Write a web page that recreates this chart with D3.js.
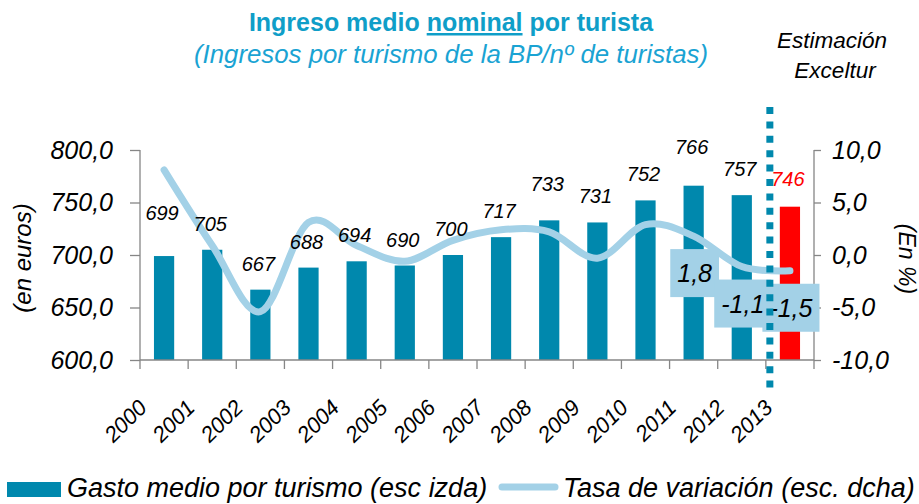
<!DOCTYPE html>
<html>
<head>
<meta charset="utf-8">
<script src="https://cdnjs.cloudflare.com/ajax/libs/d3/7.8.5/d3.min.js"></script>
<style>
  html, body { margin: 0; padding: 0; background: #fff; }
  svg { display: block; font-family: "Liberation Sans", Arial, Helvetica, sans-serif; }
  .axis path, .axis line { stroke: #868686; stroke-width: 1.3; }
</style>
</head>
<body>
<div id="chart"></div>
<script>
(() => {
  // Values
  const years = ['2000', '2001', '2002', '2003', '2004', '2005', '2006', '2007', '2008', '2009', '2010', '2011', '2012', '2013']
  const gasto = [699, 705, 667, 688, 694, 690, 700, 717, 733, 731, 752, 766, 757, 746]
  const tasa = [8.1, 0.9, -5.4, 3.1, 0.9, -0.6, 1.4, 2.4, 2.2, -0.3, 2.9, 1.8, -1.1, -1.5]
  const leftTicks = [600, 650, 700, 750, 800]
  const rightTicks = [-10, -5, 0, 5, 10]
  const tasaLabelYears = ['2011', '2012', '2013']
  const estimateYear = '2013'

  const WIDTH = 919
  const HEIGHT = 504
  const PLOT = { left: 140, right: 814, top: 150, bottom: 360 }

  const BAR_COLOR = '#0088ad'
  const LINE_COLOR = '#a3d1e7'
  const TITLE_COLOR = '#0f9ec8'
  const SUB_COLOR = '#1aa3d3'

  // label lifts above bar tops (Excel moved a few by hand)
  const LIFT = 19
  const liftFix = { '2000': 36, '2008': 29, '2011': 32, '2013': 21 }

  // spanish style numbers, plain hyphen for negatives
  const locale = d3.formatLocale({ decimal: ',', thousands: '.', grouping: [3], currency: ['', '€'], minus: '-' })
  const comma = locale.format('.1f')

  const svg = d3.select('#chart').append('svg')
    .attr('width', WIDTH)
    .attr('height', HEIGHT)

  const x = d3.scaleBand()
    .domain(years)
    .range([PLOT.left, PLOT.right])
    .paddingInner(0.58)
    .paddingOuter(0.29)

  const xc = yr => x(yr) + x.bandwidth() / 2
  const step = x.step()
  const bandStart = yr => PLOT.left + years.indexOf(yr) * step

  const yL = d3.scaleLinear().domain([600, 800]).range([PLOT.bottom, PLOT.top])
  const yR = d3.scaleLinear().domain([-10, 10]).range([PLOT.bottom, PLOT.top])

  // titles
  const title = svg.append('text')
    .attr('x', 451).attr('y', 31)
    .attr('text-anchor', 'middle')
    .attr('fill', TITLE_COLOR)
    .style('font-weight', 'bold')
    .style('font-size', '25px')
  title.append('tspan').text('Ingreso medio ')
  title.append('tspan').text('nominal').style('text-decoration', 'underline')
  title.append('tspan').text(' por turista')

  svg.append('text')
    .attr('x', 451).attr('y', 63)
    .attr('text-anchor', 'middle')
    .attr('fill', SUB_COLOR)
    .style('font-style', 'italic')
    .style('font-size', '25.8px')
    .text('(Ingresos por turismo de la BP/nº de turistas)')

  svg.selectAll('.est')
    .data(['Estimación', 'Exceltur'])
    .join('text')
    .attr('x', (d, i) => i ? 835 : 832)
    .attr('y', (d, i) => 48 + i * 30)
    .attr('text-anchor', 'middle')
    .style('font-style', 'italic')
    .style('font-size', '22.5px')
    .text(d => d)

  // bars
  svg.append('g')
    .selectAll('rect')
    .data(years)
    .join('rect')
    .attr('x', d => x(d))
    .attr('width', x.bandwidth())
    .attr('y', (d, i) => yL(gasto[i]))
    .attr('height', (d, i) => PLOT.bottom - yL(gasto[i]))
    .attr('fill', d => d === estimateYear ? '#ff0000' : BAR_COLOR)

  // axes
  const xAxisG = svg.append('g')
    .attr('class', 'axis')
    .attr('transform', `translate(0, ${PLOT.bottom})`)
  xAxisG.append('line')
    .attr('x1', PLOT.left).attr('x2', PLOT.right)
  xAxisG.selectAll('.tk')
    .data(d3.range(years.length + 1))
    .join('line')
    .attr('x1', i => PLOT.left + i * step)
    .attr('x2', i => PLOT.left + i * step)
    .attr('y1', 0).attr('y2', 9)

  svg.append('g')
    .attr('transform', `translate(0, ${PLOT.bottom})`)
    .selectAll('text')
    .data(years)
    .join('text')
    .attr('transform', d => `translate(${xc(d) - 16}, 49) rotate(-45)`)
    .attr('text-anchor', 'end')
    .style('font-style', 'italic')
    .style('font-size', '22px')
    .text(d => d)

  const tickText = g => g.selectAll('text')
    .attr('fill', '#000')
    .style('font-style', 'italic')
    .style('font-size', '25px')
    .style('font-family', '"Liberation Sans", Arial, sans-serif')

  svg.append('g')
    .attr('class', 'axis')
    .attr('transform', `translate(${PLOT.left}, 0)`)
    .call(d3.axisLeft(yL).tickValues(leftTicks).tickSize(10).tickPadding(17).tickFormat(comma))
    .call(g => g.select('.domain').attr('d', `M0,${PLOT.top}V${PLOT.bottom}`))
    .call(tickText)

  svg.append('g')
    .attr('class', 'axis')
    .attr('transform', `translate(${PLOT.right}, 0)`)
    .call(d3.axisRight(yR).tickValues(rightTicks).tickSize(7).tickPadding(11).tickFormat(comma))
    .call(g => g.select('.domain').attr('d', `M0,${PLOT.top}V${PLOT.bottom}`))
    .call(tickText)

  svg.append('text')
    .attr('transform', 'translate(31, 258) rotate(-90)')
    .attr('text-anchor', 'middle')
    .style('font-style', 'italic')
    .style('font-size', '24px')
    .text('(en euros)')

  svg.append('text')
    .attr('transform', 'translate(899, 259) rotate(90)')
    .attr('text-anchor', 'middle')
    .style('font-style', 'italic')
    .style('font-size', '23px')
    .text('(En %)')

  // variation line
  const line = d3.line()
    .x((d, i) => xc(years[i]))
    .y(d => yR(d))
    .curve(d3.curveCatmullRom.alpha(0))

  svg.append('path')
    .datum(tasa)
    .attr('d', line)
    .attr('fill', 'none')
    .attr('stroke', LINE_COLOR)
    .attr('stroke-width', 7)
    .attr('stroke-linecap', 'round')
    .attr('stroke-linejoin', 'round')

  // bar value labels
  svg.append('g')
    .selectAll('text')
    .data(years)
    .join('text')
    .attr('x', d => xc(d) - 2)
    .attr('y', (d, i) => yL(gasto[i]) - (liftFix[d] || LIFT))
    .attr('text-anchor', 'middle')
    .attr('fill', d => d === estimateYear ? '#ff0000' : '#000')
    .style('font-style', 'italic')
    .style('font-size', '20px')
    .text((d, i) => gasto[i])

  // boxed labels on the last variation points: boxes first, then texts on top
  const boxes = svg.append('g')
  const boxTexts = svg.append('g')
  tasaLabelYears.forEach(yr => {
    const v = tasa[years.indexOf(yr)]
    const cx = xc(yr) + 1
    const cy = yR(v) + 37
    const rect = boxes.append('rect').attr('fill', LINE_COLOR)
    const t = boxTexts.append('text')
      .attr('x', cx).attr('y', cy + 9)
      .attr('text-anchor', 'middle')
      .style('font-style', 'italic')
      .style('font-size', '25px')
      .text(comma(v))
    const w = t.node().getComputedTextLength() + 14
    rect.attr('x', cx - w / 2).attr('y', cy - 24)
      .attr('width', w).attr('height', 48)
  })

  // estimate separator
  svg.append('line')
    .attr('x1', bandStart(estimateYear) + 4)
    .attr('x2', bandStart(estimateYear) + 4)
    .attr('y1', 107).attr('y2', 394)
    .attr('stroke', BAR_COLOR)
    .attr('stroke-width', 7)
    .attr('stroke-dasharray', '7 7.4')

  // legend
  const legend = svg.append('g')
  legend.append('rect')
    .attr('x', 7).attr('y', 482).attr('width', 54).attr('height', 15)
    .attr('fill', BAR_COLOR)
  legend.append('text')
    .attr('x', 67).attr('y', 497)
    .style('font-style', 'italic')
    .style('font-size', '27px')
    .text('Gasto medio por turismo (esc izda)')
  legend.append('line')
    .attr('x1', 502).attr('x2', 555).attr('y1', 487).attr('y2', 487)
    .attr('stroke', LINE_COLOR)
    .attr('stroke-width', 7)
    .attr('stroke-linecap', 'round')
  legend.append('text')
    .attr('x', 563).attr('y', 497)
    .style('font-style', 'italic')
    .style('font-size', '27px')
    .text('Tasa de variación (esc. dcha)')
})()
</script>
</body>
</html>
